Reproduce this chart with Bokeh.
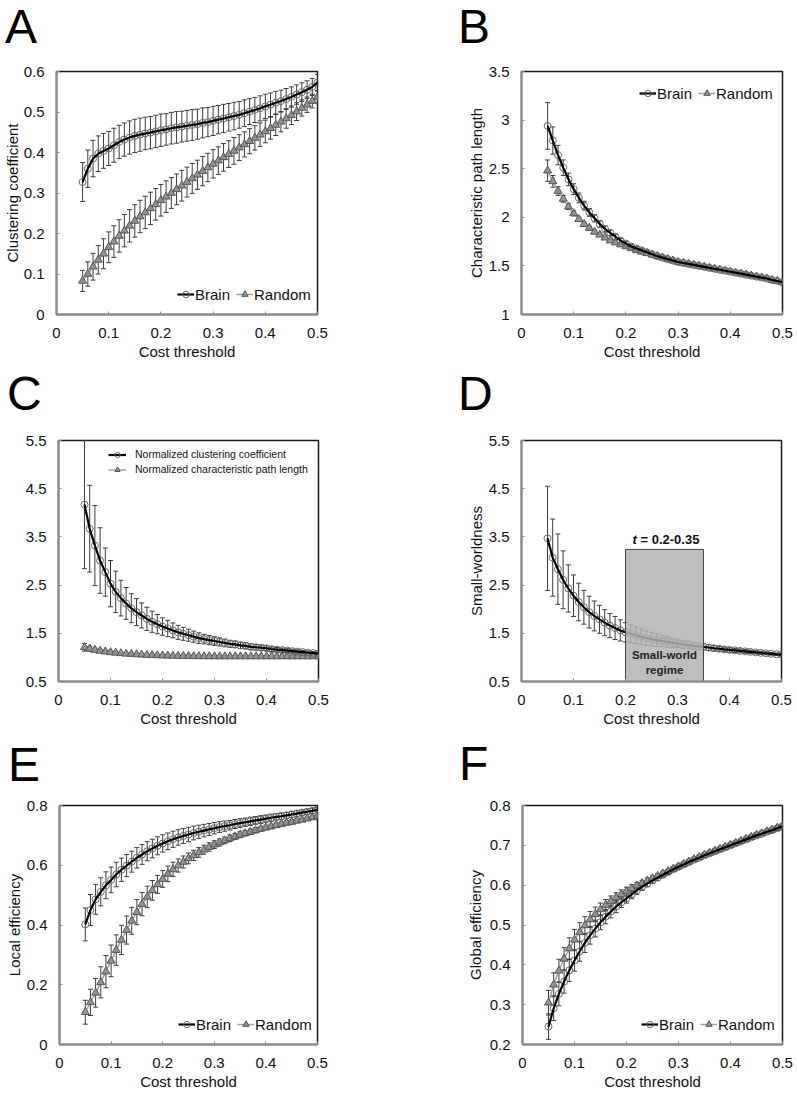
from bokeh.plotting import figure
from bokeh.models import (ColumnDataSource, Range1d, FixedTicker, CustomJSTickFormatter,
                          Whisker, TeeHead, Legend, LegendItem, Label, Div)
from bokeh.layouts import column, row
from bokeh.embed import file_html
from bokeh.resources import INLINE

FONT = "Liberation Sans"

# ---------------- data ----------------
cost = [0.05, 0.06, 0.07, 0.08, 0.09, 0.10, 0.11, 0.12, 0.13, 0.14,
        0.15, 0.16, 0.17, 0.18, 0.19, 0.20, 0.21, 0.22, 0.23, 0.24,
        0.25, 0.26, 0.27, 0.28, 0.29, 0.30, 0.31, 0.32, 0.33, 0.34,
        0.35, 0.36, 0.37, 0.38, 0.39, 0.40, 0.41, 0.42, 0.43, 0.44,
        0.45, 0.46, 0.47, 0.48, 0.49, 0.50]

x_ticks = [0, 0.1, 0.2, 0.3, 0.4, 0.5]

# A: clustering coefficient
a_brain = [.327, .360, .385, .397, .404, .410, .418, .426, .432, .437,
           .441, .444, .447, .449, .452, .455, .457, .460, .462, .464,
           .466, .468, .470, .473, .475, .478, .481, .484, .487, .490,
           .493, .497, .501, .505, .509, .514, .518, .523, .527, .532,
           .537, .543, .549, .555, .562, .573]
a_brain_err = [.048, .046, .045, .044, .043, .042, .042, .041, .041, .041,
               .041, .041, .040, .040, .040, .040, .039, .039, .039, .038,
               .038, .038, .037, .037, .036, .036, .035, .035, .034, .034,
               .033, .033, .032, .031, .031, .030, .029, .028, .027, .026,
               .025, .024, .023, .022, .021, .020]
a_random = [.083, .100, .118, .135, .150, .166, .180, .194, .207, .219,
            .231, .242, .252, .262, .272, .282, .291, .300, .309, .318,
            .327, .336, .345, .354, .363, .372, .380, .388, .396, .404,
            .412, .420, .428, .436, .444, .452, .460, .468, .476, .484,
            .492, .501, .510, .518, .527, .537]
a_random_err = [.026, .030, .033, .035, .037, .038, .039, .040, .040, .040,
                .040, .040, .040, .040, .039, .039, .039, .038, .038, .038,
                .037, .037, .036, .036, .035, .035, .034, .034, .033, .033,
                .032, .031, .031, .030, .029, .028, .027, .026, .025, .024,
                .023, .022, .020, .019, .017, .015]
a_y_ticks = [0, 0.1, 0.2, 0.3, 0.4, 0.5, 0.6]

# B: characteristic path length
b_brain = [2.94, 2.79, 2.64, 2.51, 2.39, 2.29, 2.20, 2.12, 2.05, 1.99,
           1.93, 1.88, 1.84, 1.80, 1.76, 1.73, 1.70, 1.68, 1.66, 1.64,
           1.62, 1.60, 1.585, 1.57, 1.555, 1.54, 1.53, 1.52, 1.51, 1.50,
           1.49, 1.48, 1.47, 1.46, 1.45, 1.44, 1.43, 1.42, 1.41, 1.40,
           1.39, 1.38, 1.37, 1.355, 1.345, 1.33]
b_brain_err = [.24, .14, .10, .08, .065, .055, .05, .045, .04, .037,
               .034, .031, .028, .026, .024, .022, .020, .019, .018, .017,
               .016, .015, .015, .014, .014, .013, .013, .012, .012, .012,
               .011, .011, .011, .010, .010, .010, .010, .009, .009, .009,
               .009, .008, .008, .008, .008, .008]
b_random = [2.48, 2.37, 2.27, 2.19, 2.11, 2.04, 1.98, 1.93, 1.89, 1.85,
            1.82, 1.79, 1.76, 1.74, 1.72, 1.70, 1.68, 1.66, 1.645, 1.63,
            1.615, 1.60, 1.585, 1.57, 1.555, 1.54, 1.53, 1.52, 1.51, 1.50,
            1.49, 1.48, 1.47, 1.46, 1.45, 1.44, 1.43, 1.42, 1.41, 1.40,
            1.39, 1.38, 1.37, 1.355, 1.345, 1.33]
b_random_err = [.11, .06, .045, .035, .03, .025, .022, .02, .019, .018,
                .017, .016, .015, .014, .013, .013, .012, .012, .011, .011,
                .010, .010, .010, .010, .009, .009, .009, .009, .009, .008,
                .008, .008, .008, .008, .008, .008, .008, .008, .008, .008,
                .008, .008, .008, .008, .008, .008]
b_y_ticks = [1, 1.5, 2, 2.5, 3, 3.5]

# C: normalized clustering coefficient / normalized path length
c_gamma = [4.17, 3.67, 3.32, 3.01, 2.77, 2.53, 2.36, 2.23, 2.12, 2.02,
           1.94, 1.87, 1.80, 1.74, 1.69, 1.64, 1.60, 1.56, 1.52, 1.49,
           1.46, 1.43, 1.40, 1.38, 1.36, 1.34, 1.32, 1.30, 1.28, 1.27,
           1.25, 1.24, 1.22, 1.21, 1.20, 1.19, 1.17, 1.16, 1.15, 1.14,
           1.13, 1.12, 1.11, 1.10, 1.09, 1.08]
c_gamma_err = [1.33, 0.90, 0.83, 0.68, 0.50, 0.48, 0.43, 0.37, 0.33, 0.30,
               0.28, 0.26, 0.24, 0.22, 0.20, 0.18, 0.17, 0.155, 0.145, 0.135,
               0.125, 0.115, 0.11, 0.10, 0.095, 0.09, 0.085, 0.08, 0.075, 0.07,
               0.067, 0.064, 0.06, 0.057, 0.054, 0.051, 0.048, 0.045, 0.043, 0.041,
               0.039, 0.037, 0.035, 0.033, 0.031, 0.03]
c_lambda = [1.21, 1.18, 1.155, 1.135, 1.12, 1.105, 1.095, 1.085, 1.075, 1.07,
            1.062, 1.056, 1.05, 1.046, 1.042, 1.038, 1.035, 1.032, 1.03, 1.028,
            1.026, 1.024, 1.023, 1.022, 1.021, 1.02, 1.02, 1.02, 1.02, 1.02,
            1.02, 1.02, 1.02, 1.02, 1.02, 1.02, 1.02, 1.02, 1.02, 1.02,
            1.02, 1.02, 1.02, 1.02, 1.02, 1.02]
c_lambda_err = [.08, .05, .04, .035, .03, .025, .022, .02, .018, .017,
                .016, .015, .014, .013, .012, .012, .011, .011, .010, .010,
                .010, .010, .010, .010, .010, .010, .010, .010, .010, .010,
                .010, .010, .010, .010, .010, .010, .010, .010, .010, .010,
                .010, .010, .010, .010, .010, .010]
cd_y_ticks = [0.5, 1.5, 2.5, 3.5, 4.5, 5.5]

# D: small-worldness
d_sigma = [3.47, 3.07, 2.83, 2.61, 2.43, 2.28, 2.15, 2.04, 1.94, 1.86,
           1.79, 1.72, 1.66, 1.61, 1.56, 1.52, 1.49, 1.46, 1.43, 1.40,
           1.38, 1.36, 1.34, 1.32, 1.30, 1.29, 1.27, 1.26, 1.24, 1.23,
           1.22, 1.205, 1.19, 1.18, 1.165, 1.155, 1.145, 1.135, 1.125, 1.115,
           1.105, 1.095, 1.085, 1.075, 1.065, 1.055]
d_sigma_err = [1.08, 0.80, 0.73, 0.60, 0.49, 0.43, 0.39, 0.35, 0.33, 0.31,
               0.29, 0.27, 0.25, 0.24, 0.22, 0.20, 0.185, 0.17, 0.16, 0.15,
               0.14, 0.13, 0.12, 0.11, 0.10, 0.09, 0.085, 0.08, 0.075, 0.07,
               0.065, 0.06, 0.055, 0.05, 0.048, 0.045, 0.042, 0.04, 0.038, 0.036,
               0.034, 0.032, 0.03, 0.028, 0.026, 0.025]
regime_start = 0.2
regime_end = 0.35
regime_top = 3.24

# E: local efficiency
e_brain = [.402, .450, .486, .511, .533, .551, .569, .585, .599, .612,
           .625, .636, .647, .656, .665, .673, .680, .687, .693, .698,
           .703, .708, .712, .716, .720, .724, .728, .731, .734, .738,
           .741, .744, .747, .750, .753, .756, .759, .762, .764, .767,
           .770, .773, .776, .779, .782, .786]
e_brain_err = [.055, .052, .050, .047, .045, .043, .041, .039, .037, .035,
               .034, .033, .032, .031, .030, .029, .028, .027, .026, .025,
               .024, .023, .022, .021, .020, .019, .018, .017, .016, .015,
               .015, .014, .014, .013, .013, .012, .012, .011, .011, .010,
               .010, .010, .009, .009, .009, .008]
e_random = [.108, .141, .173, .208, .244, .280, .316, .350, .383, .414,
            .443, .470, .494, .516, .536, .554, .571, .586, .599, .611,
            .623, .633, .643, .652, .661, .669, .676, .683, .690, .696,
            .702, .707, .712, .717, .722, .726, .730, .734, .738, .742,
            .745, .749, .752, .756, .760, .764]
e_random_err = [.040, .044, .048, .052, .054, .053, .051, .049, .047, .045,
                .042, .039, .036, .033, .030, .028, .026, .024, .022, .020,
                .018, .017, .016, .015, .014, .013, .012, .011, .011, .010,
                .010, .009, .009, .009, .008, .008, .008, .008, .007, .007,
                .007, .007, .006, .006, .006, .006]
e_y_ticks = [0, 0.2, 0.4, 0.6, 0.8]

# F: global efficiency
f_brain = [.245, .291, .327, .358, .386, .411, .434, .455, .474, .491,
           .507, .521, .534, .546, .557, .567, .577, .587, .596, .604,
           .612, .619, .626, .633, .640, .646, .652, .658, .664, .669,
           .675, .680, .685, .690, .695, .700, .705, .710, .715, .720,
           .725, .729, .734, .738, .743, .748]
f_brain_err = [.032, .031, .030, .029, .028, .027, .025, .024, .022, .021,
               .019, .018, .016, .015, .013, .012, .011, .010, .009, .008,
               .007, .007, .006, .006, .006, .006, .006, .005, .005, .005,
               .005, .005, .005, .005, .005, .005, .005, .005, .005, .005,
               .005, .005, .005, .005, .005, .005]
f_random = [.305, .350, .385, .415, .441, .463, .482, .499, .514, .527,
            .539, .550, .560, .569, .577, .585, .592, .599, .605, .611,
            .617, .623, .629, .635, .641, .647, .653, .659, .665, .670,
            .676, .681, .686, .691, .696, .701, .706, .711, .716, .721,
            .726, .730, .735, .739, .744, .749]
f_random_err = [.031, .030, .029, .028, .027, .026, .024, .022, .020, .018,
                .016, .014, .013, .012, .011, .010, .009, .008, .007, .007,
                .006, .006, .006, .005, .005, .005, .005, .005, .005, .005,
                .005, .005, .005, .005, .005, .005, .005, .005, .005, .005,
                .005, .005, .005, .005, .005, .005]
f_y_ticks = [0.2, 0.3, 0.4, 0.5, 0.6, 0.7, 0.8]

# ---------------- styles ----------------
ERR_COLOR = "#3c3c3c"
CIRCLE_EDGE = "#6a6a6a"
TRI_FILL = "#939393"
TRI_EDGE = "#555555"
RND_LINE = "#a0a0a0"
AXIS_GRAY = "#8c8c8c"
TXT = "#111111"


def add_errorbars(p, xs, ys, errs):
    src = ColumnDataSource(dict(x=xs,
                                lo=[y - e for y, e in zip(ys, errs)],
                                up=[y + e for y, e in zip(ys, errs)]))
    w = Whisker(source=src, base="x", lower="lo", upper="up",
                line_color=ERR_COLOR, line_width=1,
                lower_head=TeeHead(size=5, line_color=ERR_COLOR, line_width=1),
                upper_head=TeeHead(size=5, line_color=ERR_COLOR, line_width=1),
                level="underlay")
    p.add_layout(w)


def add_random(p, xs, ys, errs):
    add_errorbars(p, xs, ys, errs)
    ln = p.line(xs, ys, line_color=RND_LINE, line_width=1.5)
    sc = p.scatter(xs, ys, marker="triangle", size=8, fill_color=TRI_FILL,
                   line_color=TRI_EDGE, line_width=1)
    return [ln, sc]


def add_brain(p, xs, ys, errs):
    add_errorbars(p, xs, ys, errs)
    sc = p.scatter(xs, ys, marker="circle", size=7, fill_color="white", fill_alpha=0.0,
                   line_color=CIRCLE_EDGE, line_width=1)
    ln = p.line(xs, ys, line_color="black", line_width=2.2)
    return [ln, sc]


def make_fig(w, h, bl, br, bt, bb, y0, y1, yticks, ylabel, y_lab_standoff, x_lab_standoff):
    p = figure(width=w, height=h,
               min_border_left=bl, min_border_right=br,
               min_border_top=bt, min_border_bottom=bb,
               x_range=Range1d(0, 0.5), y_range=Range1d(y0, y1),
               output_backend="svg", toolbar_location=None,
               background_fill_color="white", border_fill_color="white",
               outline_line_color="#1a1a1a", outline_line_width=1.5)
    p.grid.visible = False
    p.xaxis.ticker = FixedTicker(ticks=x_ticks)
    p.yaxis.ticker = FixedTicker(ticks=yticks)
    p.xaxis.formatter = CustomJSTickFormatter(code="return tick.toString();")
    p.yaxis.formatter = CustomJSTickFormatter(code="return tick.toString();")
    for ax in (p.xaxis, p.yaxis):
        ax.major_label_text_font = FONT
        ax.major_label_text_font_size = "15px"
        ax.major_label_text_color = TXT
        ax.major_tick_in = 3
        ax.major_tick_out = 0
        ax.minor_tick_line_color = None
        ax.axis_line_color = AXIS_GRAY
        ax.axis_line_width = 2
        ax.major_tick_line_color = AXIS_GRAY
        ax.axis_label_text_font = FONT
        ax.axis_label_text_font_size = "15px"
        ax.axis_label_text_font_style = "normal"
        ax.axis_label_text_color = TXT
    p.xaxis.axis_label = "Cost threshold"
    p.xaxis.major_label_standoff = 13
    p.xaxis.axis_label_standoff = x_lab_standoff
    p.yaxis.major_label_standoff = 12
    if ylabel:
        p.yaxis.axis_label = ylabel
        p.yaxis.axis_label_standoff = y_lab_standoff
    return p


def add_legend(p, items, loc, orientation="horizontal", font_size="15px",
               glyph_w=17, item_h=16, standoff=1, spacing=6):
    leg = Legend(items=[LegendItem(label=lab, renderers=rs) for lab, rs in items],
                 orientation=orientation, location=loc, padding=0, margin=0,
                 spacing=spacing, label_standoff=standoff, glyph_width=glyph_w,
                 glyph_height=item_h, label_height=item_h,
                 label_text_font=FONT, label_text_font_size=font_size,
                 label_text_color=TXT,
                 border_line_alpha=0, background_fill_alpha=0)
    p.add_layout(leg)


def letter_div(letter, width, height, left, top):
    html = ('<div style="position:relative; left:%dpx; top:%dpx; margin:0; padding:0; '
            'font-family:\'Liberation Sans\', Arial, sans-serif; font-size:48px; '
            'line-height:54px; color:#000; white-space:nowrap;">%s</div>'
            % (left, top, letter))
    return Div(text=html, width=width, height=height, margin=0)


# ---- A ----  frame x 56-317, y 71-314
pA = make_fig(400, 311, 56, 83, 17, 51, 0, 0.6, a_y_ticks, "Clustering coefficient", 0, 2)
rA = add_random(pA, cost, a_random, a_random_err)
bA = add_brain(pA, cost, a_brain, a_brain_err)
add_legend(pA, [("Brain", bA), ("Random", rA)], (121, 11.5))

# ---- B ----  frame x 521-782, y 71-314
pB = make_fig(397, 311, 121, 15, 17, 51, 1, 3.5, b_y_ticks,
              "Characteristic path length", 1, 2)
rB = add_random(pB, cost, b_random, b_random_err)
bB = add_brain(pB, cost, b_brain, b_brain_err)
add_legend(pB, [("Brain", bB), ("Random", rB)], (118, 212.5))

# ---- C ----  frame x 58-318, y 440-681
pC = make_fig(400, 313, 58, 82, 18, 54, 0.5, 5.5, cd_y_ticks, None, 0, 2)
rC = add_random(pC, cost, c_lambda, c_lambda_err)
bC = add_brain(pC, cost, c_gamma, c_gamma_err)
add_legend(pC, [("Normalized clustering coefficient", bC),
                ("Normalized characteristic path length", rC)],
           (50, 205.5), orientation="vertical", font_size="10.5px",
           glyph_w=18, item_h=13, standoff=9, spacing=2)

# ---- D ----  frame x 521-781, y 440-685
pD = make_fig(397, 313, 121, 16, 18, 50, 0.5, 5.5, cd_y_ticks, "Small-worldness", 1, 2)
bD = add_brain(pD, cost, d_sigma, d_sigma_err)
pD.quad(left=[regime_start], right=[regime_end], bottom=[0.5], top=[regime_top],
        fill_color="#b3b3b3", fill_alpha=0.85, line_color="#444444", line_width=1)
pD.add_layout(Label(x=111, y=142, x_units="screen", y_units="screen", text="t",
                    text_font=FONT, text_font_size="13px", text_font_style="bold italic",
                    text_color=TXT, text_align="left", text_baseline="alphabetic"))
pD.add_layout(Label(x=119, y=142, x_units="screen", y_units="screen",
                    text="= 0.2-0.35", text_font=FONT, text_font_size="13px",
                    text_font_style="bold", text_color=TXT,
                    text_align="left", text_baseline="alphabetic"))
for txt, yy in (("Small-world", 26.7), ("regime", 11.7)):
    pD.add_layout(Label(x=(regime_start + regime_end) / 2, y=yy, x_units="data",
                        y_units="screen", text=txt, text_font=FONT,
                        text_font_size="11.5px", text_font_style="bold",
                        text_color="#222222", text_align="center", text_baseline="middle"))

# ---- E ----  frame x 59-317, y 804-1044
pE = make_fig(400, 302, 59, 83, 11, 51, 0, 0.8, e_y_ticks, "Local efficiency", 1, 2)
rE = add_random(pE, cost, e_random, e_random_err)
bE = add_brain(pE, cost, e_brain, e_brain_err)
add_legend(pE, [("Brain", bE), ("Random", rE)], (119, 11.5))

# ---- F ----  frame x 522-782, y 805-1046
pF = make_fig(397, 302, 122, 15, 12, 49, 0.2, 0.8, f_y_ticks, "Global efficiency", 3, 2)
bF = add_brain(pF, cost, f_brain, f_brain_err)
rF = add_random(pF, cost, f_random, f_random_err)
pF.renderers.append(pF.renderers.pop(pF.renderers.index(bF[0])))
add_legend(pF, [("Brain", bF), ("Random", rF)], (119, 11.5))

layout = column(
    row(letter_div("A", 400, 54, 5, 0), letter_div("B", 397, 54, 58, 0)),
    row(pA, pB),
    row(letter_div("C", 400, 57, 7, 2), letter_div("D", 397, 57, 58, 2)),
    row(pC, pD),
    row(letter_div("E", 400, 58, 8, 3), letter_div("F", 397, 58, 59, 2)),
    row(pE, pF),
)

with open("out.html", "w") as fh_out:
    fh_out.write(file_html(layout, INLINE))
